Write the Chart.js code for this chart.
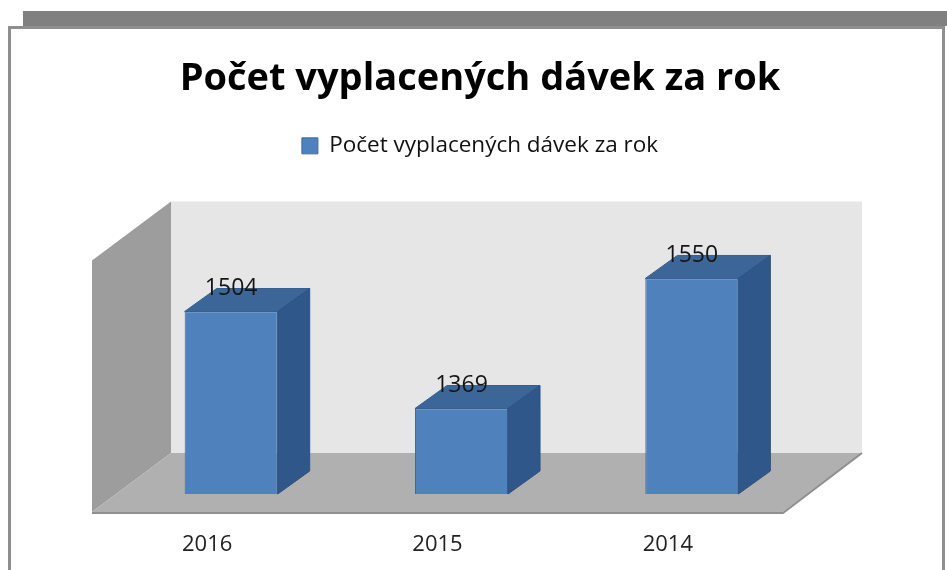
<!DOCTYPE html>
<html>
<head>
<meta charset="utf-8">
<title>Počet vyplacených dávek za rok</title>
<script src="https://cdn.jsdelivr.net/npm/chart.js"></script>
<style>
    html, body { margin: 0; padding: 0; background: #fff; overflow: hidden; }
    .topBar { position: absolute; left: 23px; top: 11px; width: 924px; height: 15px; background: #808080; }
    .frame { position: absolute; left: 8px; top: 26px; width: 931px; height: 600px; border: 3px solid #8e8e8e; border-bottom: none; background: #fff; }
    #ChartDavky { position: absolute; left: 0; top: 0; }
</style>
</head>
<body>
<div class="topBar"></div>
<div class="frame"></div>
<canvas id="ChartDavky" width="947" height="570"></canvas>
<script>
var years = ['2016', '2015', '2014'];
var payouts = [1504, 1369, 1550];
var seriesName = 'Počet vyplacených dávek za rok';
var axisFloor = 1250;
var axisCeiling = 1600;

// oblique offsets of the 3D planes, relative to the front of the bars
var barDepth = [32, -23];
var backWall = [55, -41];
var frontEdge = [-24, 18];

function fillPoly(ctx, pts, color, stroke) {
    ctx.beginPath();
    ctx.moveTo(pts[0][0], pts[0][1]);
    for (var i = 1; i < pts.length; i++) {
        ctx.lineTo(pts[i][0], pts[i][1]);
    }
    ctx.closePath();
    ctx.fillStyle = color;
    ctx.fill();
    if (stroke) {
        ctx.strokeStyle = stroke;
        ctx.lineWidth = 1;
        ctx.stroke();
    }
}

var box3d = {
    id: 'box3d',
    beforeDatasetsDraw: function (chart) {
        var ctx = chart.ctx;
        var area = chart.chartArea;
        var top = chart.scales.y.getPixelForValue(axisCeiling);
        var bottom = chart.scales.y.getPixelForValue(axisFloor);
        var L = area.left, R = area.right;

        ctx.save();
        fillPoly(ctx, [[L + backWall[0], top + backWall[1]], [R + backWall[0], top + backWall[1]],
            [R + backWall[0], bottom + backWall[1]], [L + backWall[0], bottom + backWall[1]]], '#e6e6e6');
        fillPoly(ctx, [[L + frontEdge[0], top + frontEdge[1]], [L + backWall[0], top + backWall[1]],
            [L + backWall[0], bottom + backWall[1]], [L + frontEdge[0], bottom + frontEdge[1]]], '#9d9d9d');
        fillPoly(ctx, [[L + frontEdge[0], bottom + frontEdge[1]], [L + backWall[0], bottom + backWall[1]],
            [R + backWall[0], bottom + backWall[1]], [R + frontEdge[0], bottom + frontEdge[1]]], '#b0b0b0');

        ctx.beginPath();
        ctx.moveTo(L + frontEdge[0], bottom + frontEdge[1] + 1);
        ctx.lineTo(R + frontEdge[0], bottom + frontEdge[1] + 1);
        ctx.lineTo(R + backWall[0], bottom + backWall[1]);
        ctx.strokeStyle = '#8f8f8f';
        ctx.lineWidth = 2;
        ctx.stroke();
        ctx.restore();
    },
    afterDatasetsDraw: function (chart) {
        var ctx = chart.ctx;
        var values = chart.data.datasets[0].data;
        var floorPx = chart.scales.y.getPixelForValue(axisFloor);
        ctx.save();
        chart.getDatasetMeta(0).data.forEach(function (bar, i) {
            var p = bar.getProps(['x', 'y', 'width'], true);
            var l = p.x - p.width / 2, r = p.x + p.width / 2;
            var dx = barDepth[0], dy = barDepth[1];

            fillPoly(ctx, [[l, p.y], [r, p.y], [r + dx, p.y + dy], [l + dx, p.y + dy]], '#3c6698', '#36608f');
            fillPoly(ctx, [[r, p.y], [r + dx, p.y + dy], [r + dx, floorPx + dy], [r, floorPx]], '#30578a', '#2c5282');

            ctx.fillStyle = '#151515';
            ctx.font = "23px 'Open Sans', sans-serif";
            ctx.textAlign = 'center';
            ctx.textBaseline = 'middle';
            ctx.fillText(String(values[i]), p.x, p.y - 23);
        });
        ctx.restore();
    }
};

Chart.defaults.font.family = "'Open Sans', sans-serif";

var ctx = document.getElementById('ChartDavky').getContext('2d');

var graph = new Chart(ctx, {
    type: 'bar',
    data: {
        labels: years,
        datasets: [
            {
                label: seriesName,
                data: payouts,
                backgroundColor: '#4f81bd',
                borderColor: '#3d6a9e',
                borderWidth: 1,
                barPercentage: 0.404,
                categoryPercentage: 1
            }
        ]
    },
    options: {
        responsive: false,
        animation: false,
        events: [],
        layout: {
            padding: { left: 116, right: 103, top: 0, bottom: 13 }
        },
        plugins: {
            title: {
                display: true,
                text: seriesName,
                color: '#000',
                font: { size: 38, weight: 'bold' },
                padding: { top: 56, bottom: 23 }
            },
            legend: {
                display: true,
                labels: {
                    color: '#111',
                    font: { size: 22.5 },
                    boxWidth: 16,
                    boxHeight: 16,
                    padding: 10
                }
            },
            tooltip: { enabled: false }
        },
        scales: {
            x: {
                grid: { display: false, drawTicks: false },
                border: { display: false },
                ticks: {
                    color: '#222',
                    font: { size: 22 },
                    padding: 38,
                    labelOffset: -24,
                    maxRotation: 0
                },
                afterFit: function (scale) {
                    scale.height = 63;
                }
            },
            y: {
                position: 'right',
                min: axisFloor,
                max: 1705,
                grid: { display: false, drawTicks: false },
                border: { display: false },
                ticks: { display: false },
                afterFit: function (scale) {
                    scale.width = 37;
                }
            }
        }
    },
    plugins: [box3d]
});
</script>
</body>
</html>
